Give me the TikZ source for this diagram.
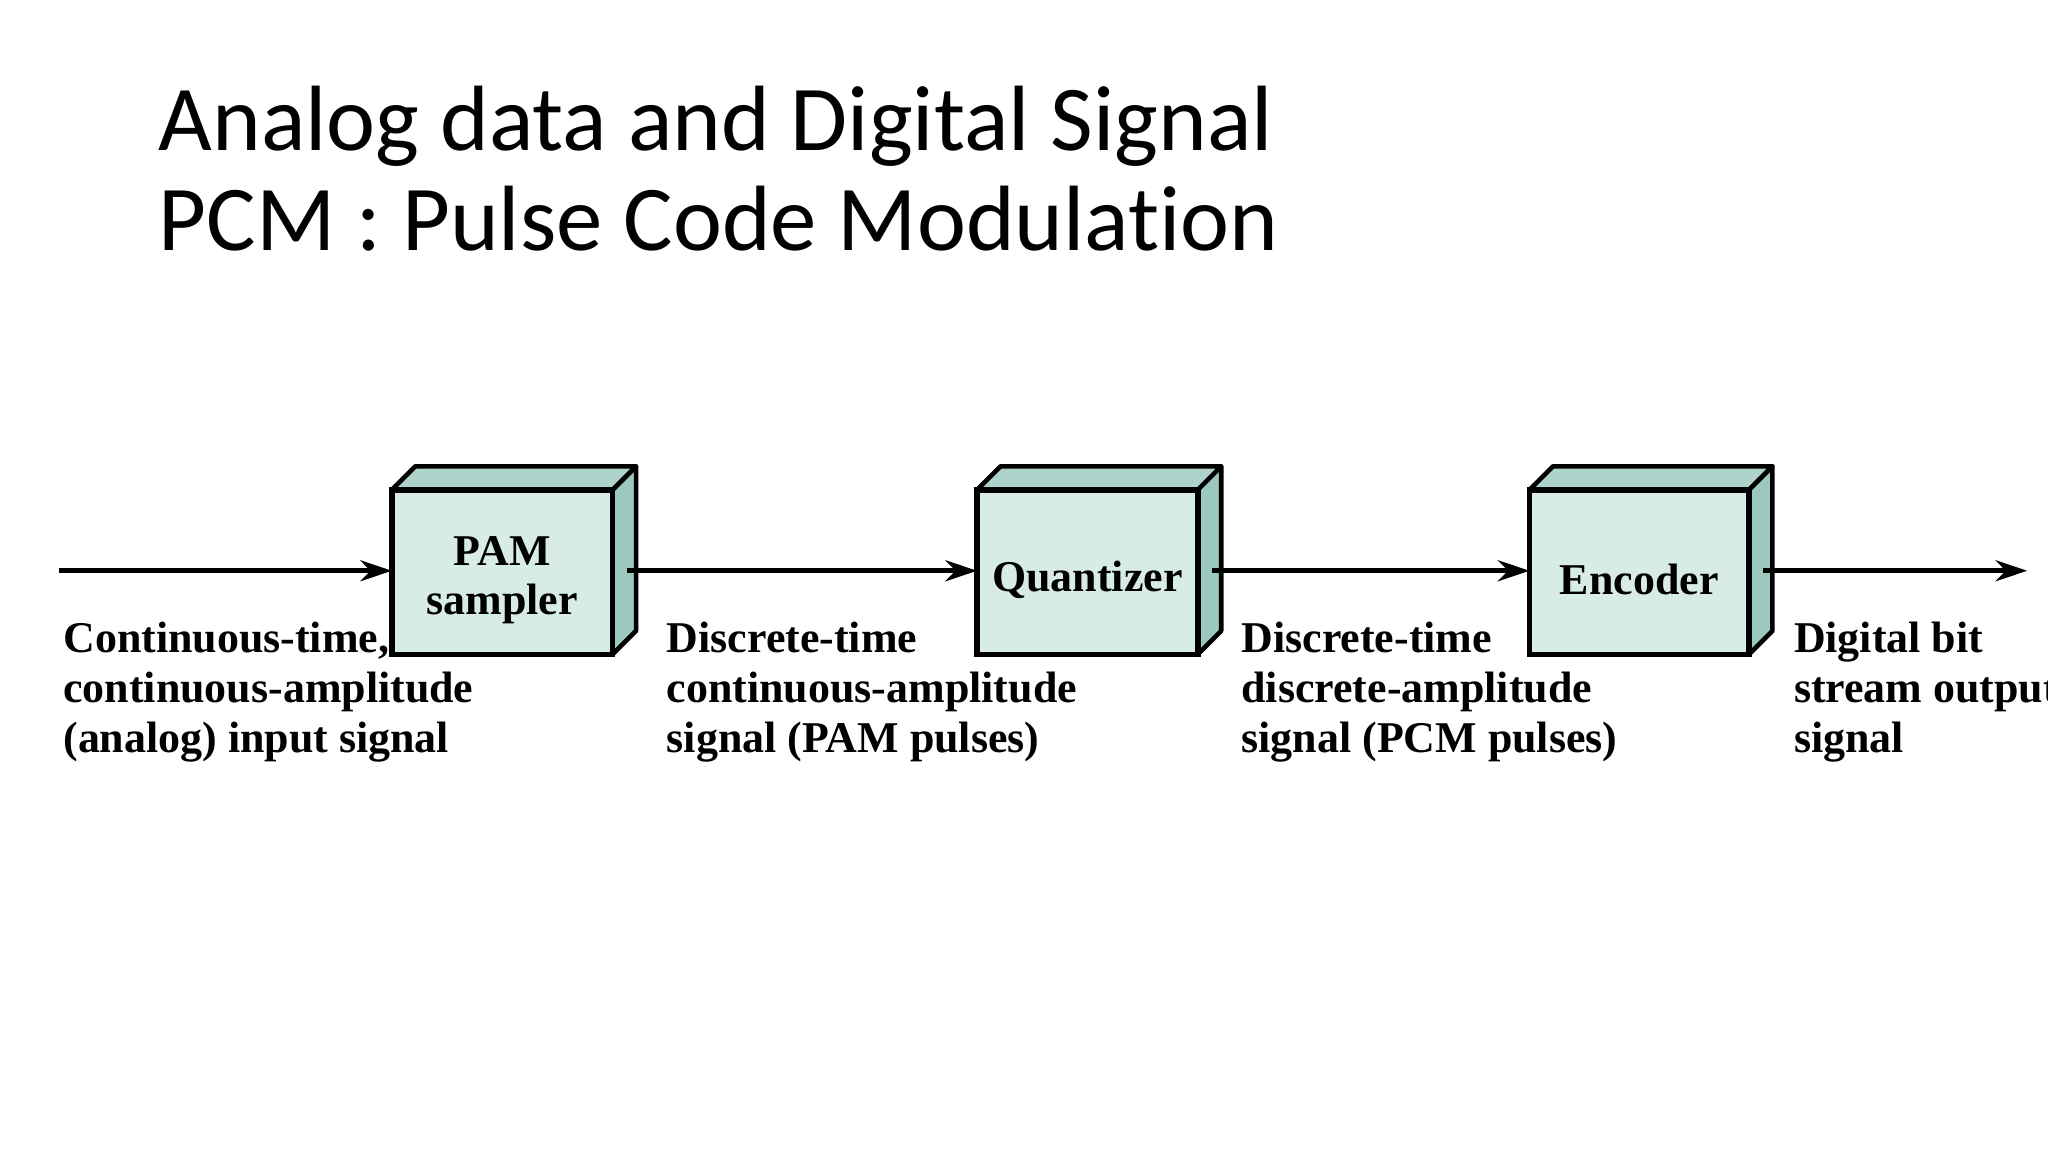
\documentclass[tikz,border=0pt]{standalone}
\usepackage{fontspec}
\setmainfont{Liberation Serif}
\newfontfamily\titlefont[Ligatures=NoCommon]{Carlito}
\usetikzlibrary{arrows.meta}
\definecolor{boxfront}{HTML}{D8ECE6}
\definecolor{boxside}{HTML}{9CC9BF}
\tikzset{
  lbl/.style={anchor=north west,align=left,inner sep=0pt,font=\fontsize{12.5}{14.2}\selectfont\bfseries},
  btxt/.style={align=center,inner sep=0pt,font=\fontsize{12.5}{14}\selectfont\bfseries},
  conn/.style={line width=1.3pt,-{Stealth[length=9pt,width=6pt]}},
  titl/.style={anchor=base west,inner sep=0pt,font=\titlefont\fontsize{26.4}{30}\selectfont}
}
\newcommand{\mybox}[5]{% name, x1, y1, x2, y2 (display coords, y down)
  \fill[boxside,draw=black,line width=1.3pt,line join=round] (#4,#3) -- (#4+18,#3-18) -- (#4+18,#5-18) -- (#4,#5) -- cycle;
  \fill[boxside!70!boxfront,draw=black,line width=1.3pt,line join=round] (#2,#3) -- (#2+18,#3-18) -- (#4+18,#3-18) -- (#4,#3) -- cycle;
  \draw[fill=boxfront,line width=1.6pt] (#2,#3) rectangle (#4,#5);
  \coordinate (#1w) at (#2,437);
  \coordinate (#1e) at (#4+11,437);
  \coordinate (#1c) at ({(#2+#4)/2},{(#3+#5)/2+6});
}
\begin{document}
\begin{tikzpicture}[x=0.013061cm,y=-0.013061cm]
\useasboundingbox (0,0) rectangle (1568,882);
\clip (0,0) rectangle (1568,882);
\fill[white] (0,0) rectangle (1568,882);
\node[titl] (t1) at (121,115) {Analog data and Digital Signal};
\node[titl] (t2) at (121,192) {PCM : Pulse Code Modulation};
\mybox{p}{300}{375}{469}{501}
\mybox{q}{748}{375}{917}{501}
\mybox{e}{1171}{375}{1339}{501}
\node[btxt] (pt) at (pc) {PAM\\sampler};
\node[btxt] (qt) at (qc) {Quantizer};
\node[btxt] (et) at (ec) {Encoder};
\coordinate (start) at (45,437);
\coordinate (fin) at (1552,437);
\draw[conn] (start) -- (pw);
\draw[conn] (pe) -- (qw);
\draw[conn] (qe) -- (ew);
\draw[conn] (ee) -- (fin);
\node[lbl] (l1) at (48,476) {Continuous-time,\\continuous-amplitude\\(analog) input signal};
\node[lbl] (l2) at (510,476) {Discrete-time\\continuous-amplitude\\signal (PAM pulses)};
\node[lbl] (l3) at (950,476) {Discrete-time\\discrete-amplitude\\signal (PCM pulses)};
\node[lbl] (l4) at (1373,476) {Digital bit\\stream output\\signal};
\end{tikzpicture}
\end{document}
